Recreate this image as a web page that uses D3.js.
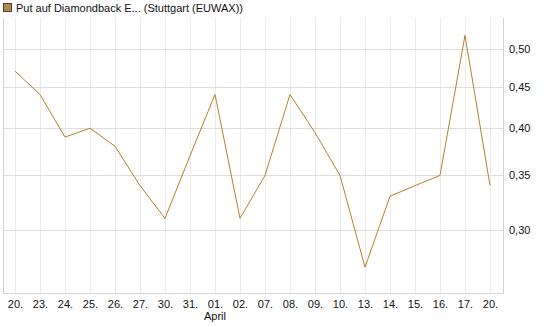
<!DOCTYPE html>
<html>
<head>
<meta charset="utf-8">
<script src="https://cdn.jsdelivr.net/npm/d3@7"></script>
<style>
  body { margin: 0; background: #fff; }
  text { font-family: "Liberation Sans", Arial, sans-serif; }
</style>
</head>
<body>
<svg id="chart" width="545" height="327"></svg>
<script>
// data
let dayLabels = ["20.", "23.", "24.", "25.", "26.", "27.", "30.", "31.", "01.", "02.",
  "07.", "08.", "09.", "10.", "13.", "14.", "15.", "16.", "17.", "20."];
let prices = [0.47, 0.44, 0.39, 0.40, 0.38, 0.34, 0.31, 0.37, 0.44, 0.31,
  0.35, 0.44, 0.395, 0.35, 0.27, 0.33, 0.34, 0.35, 0.52, 0.34];
let yTicks = [0.30, 0.35, 0.40, 0.45, 0.50];
let monthLabels = [{ at: 8, text: "April" }];
let seriesName = "Put auf Diamondback E... (Stuttgart (EUWAX))";

let lineColor = "#b8802c";

let svg = d3.select("#chart");
let plotLeft = 3, plotRight = 503, plotTop = 18, plotBottom = 293;

let x = d3.scalePoint()
  .domain(d3.range(prices.length))
  .range([15, 490]);

let y = d3.scaleLog()
  .domain([0.251, 0.5462])
  .range([plotBottom, plotTop]);

// vertical grid
svg.append("g")
  .selectAll("line")
  .data(x.domain())
  .enter()
  .append("line")
  .attr("x1", (d) => x(d) + 0.5)
  .attr("x2", (d) => x(d) + 0.5)
  .attr("y1", plotTop)
  .attr("y2", plotBottom)
  .attr("stroke", "#ebebeb")
  .attr("stroke-width", 1);

// horizontal grid
svg.append("g")
  .selectAll("line")
  .data(yTicks)
  .enter()
  .append("line")
  .attr("x1", plotLeft)
  .attr("x2", plotRight)
  .attr("y1", (d) => Math.round(y(d)) + 0.5)
  .attr("y2", (d) => Math.round(y(d)) + 0.5)
  .attr("stroke", "#dedede")
  .attr("stroke-width", 1);

// frame: left, bottom, right
svg.append("path")
  .attr("d", `M${plotLeft + 0.5},${plotTop}V${plotBottom + 0.5}H${plotRight + 0.5}V${plotTop}`)
  .attr("fill", "none")
  .attr("stroke", "#d4d4d4")
  .attr("stroke-width", 1);

// y labels
let yAxis = d3.axisRight(y)
  .tickValues(yTicks)
  .tickSize(0)
  .tickPadding(5)
  .tickFormat((d) => d3.format(".2f")(d).replace(".", ","));

let yG = svg.append("g")
  .attr("transform", `translate(${plotRight + 1},0)`)
  .call(yAxis);
yG.select(".domain").remove();
yG.selectAll("text")
  .attr("font-size", "11px")
  .attr("fill", "#111")
  .style("font-family", "'Liberation Sans', Arial, sans-serif");

// x labels
let xAxis = d3.axisBottom(x)
  .tickSize(0)
  .tickPadding(7)
  .tickFormat((i) => dayLabels[i]);

let xG = svg.append("g")
  .attr("transform", `translate(0,${plotBottom})`)
  .call(xAxis);
xG.select(".domain").remove();
xG.selectAll("text")
  .attr("font-size", "11px")
  .attr("fill", "#111")
  .style("font-family", "'Liberation Sans', Arial, sans-serif");

svg.append("g")
  .selectAll("text")
  .data(monthLabels)
  .enter()
  .append("text")
  .attr("x", (d) => x(d.at))
  .attr("y", 320)
  .attr("text-anchor", "middle")
  .attr("font-size", "11px")
  .attr("fill", "#111")
  .text((d) => d.text);

// price line
let line = d3.line()
  .x((d, i) => x(i))
  .y((d) => y(d));

svg.append("path")
  .datum(prices)
  .attr("d", line)
  .attr("fill", "none")
  .attr("stroke", lineColor)
  .attr("stroke-width", 1);

// legend
svg.append("rect")
  .attr("x", 3.5)
  .attr("y", 3.5)
  .attr("width", 8)
  .attr("height", 8)
  .attr("fill", "#b08850")
  .attr("stroke", "#4d4030")
  .attr("stroke-width", 1);

svg.append("text")
  .attr("x", 16)
  .attr("y", 12)
  .attr("font-size", "11px")
  .attr("fill", "#111")
  .text(seriesName);
</script>
</body>
</html>
